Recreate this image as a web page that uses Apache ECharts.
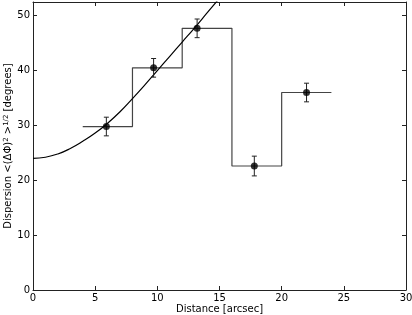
<!DOCTYPE html>
<html>
<head>
<meta charset="utf-8">
<script src="https://cdn.jsdelivr.net/npm/echarts@6/dist/echarts.min.js"></script>
<style>html,body{margin:0;padding:0;background:#fff}#c{width:412px;height:315px}</style>
</head>
<body>
<div id="c"></div>
<script>
// Bin edges of the step histogram and the dispersion per bin
const binEdges = [4, 8, 12, 16, 20, 24];
const binValues = [29.8, 40.5, 47.7, 22.6, 36.0];
// Data points with error bars
const pointX = [5.9, 9.7, 13.2, 17.8, 22.0];
const pointY = [29.8, 40.5, 47.7, 22.6, 36.0];
const pointErr = [1.7, 1.7, 1.7, 1.8, 1.7];
// Fitted curve
const curveX = [0, 1, 2, 3, 4, 5, 6, 7, 8, 9, 10, 11, 12, 13, 14, 15];
const curveY = [24.0, 24.2, 24.8, 25.8, 27.1, 28.6, 30.4, 32.5, 34.9, 37.4, 40.0, 42.6, 45.2, 47.8, 50.5, 53.2];
// Axis ticks
const xTicks = [0, 5, 10, 15, 20, 25, 30];
const yTicks = [0, 10, 20, 30, 40, 50];

const FONT = 'DejaVu Sans';
const stepData = binEdges.map((x, i) => [x, binValues[Math.min(i, binValues.length - 1)]]);
const pts = pointX.map((x, i) => [x, pointY[i]]);
const errData = pointX.map((x, i) => [x, pointY[i] - pointErr[i], pointY[i] + pointErr[i]]);
const curveData = curveX.map((x, i) => [x, curveY[i]]);

const chart = echarts.init(document.getElementById('c'), null, {renderer: 'canvas'});
const axisLine = {show: true, onZero: false, lineStyle: {color: '#222', width: 1}};
const tick = {show: true, inside: true, length: 4, lineStyle: {color: '#222', width: 1}};
chart.setOption({
  animation: false,
  backgroundColor: '#fff',
  grid: {left: 33, right: 6, top: 2, bottom: 25, containLabel: false, outerBoundsMode: 'none'},
  xAxis: [{
    type: 'value', min: xTicks[0], max: xTicks[xTicks.length - 1], interval: 5,
    position: 'bottom',
    axisLine: axisLine, axisTick: tick, splitLine: {show: false},
    axisLabel: {color: '#000', fontFamily: FONT, fontSize: 10, margin: 3},
    name: 'Distance [arcsec]', nameLocation: 'middle', nameGap: 14, nameMoveOverlap: false,
    nameTextStyle: {color: '#000', fontFamily: FONT, fontSize: 10}
  }, {
    type: 'value', min: xTicks[0], max: xTicks[xTicks.length - 1], interval: 5,
    position: 'top',
    axisLine: axisLine, axisTick: tick, splitLine: {show: false}, axisLabel: {show: false}
  }],
  yAxis: [{
    type: 'value', min: yTicks[0], max: 52.5, interval: 10,
    position: 'left',
    axisLine: axisLine, axisTick: tick, splitLine: {show: false},
    axisLabel: {color: '#000', fontFamily: FONT, fontSize: 10, margin: 3, showMaxLabel: false,
      formatter: v => (yTicks.indexOf(v) >= 0 ? String(v) : '')},
    name: 'Dispersion <(ΔΦ){sup|2} >{sup|1/2} [degrees]', nameLocation: 'middle', nameGap: 20, nameRotate: 90,
    nameMoveOverlap: false,
    nameTextStyle: {color: '#000', fontFamily: FONT, fontSize: 10,
      rich: {sup: {fontSize: 7, fontFamily: FONT, color: '#000', verticalAlign: 'top'}}}
  }, {
    type: 'value', min: yTicks[0], max: 52.5, interval: 10,
    position: 'right',
    axisLine: axisLine, axisTick: tick, splitLine: {show: false}, axisLabel: {show: false}
  }],
  series: [
    {
      type: 'line', data: stepData, step: 'end', symbol: 'none',
      lineStyle: {color: '#444', width: 1.2}, z: 2
    },
    {
      type: 'line', data: curveData, smooth: true, symbol: 'none',
      lineStyle: {color: '#000', width: 1.2}, clip: true, z: 3
    },
    {
      type: 'custom', z: 4,
      data: errData,
      renderItem: function (params, api) {
        const x = api.value(0);
        const lo = api.coord([x, api.value(1)]);
        const hi = api.coord([x, api.value(2)]);
        const cap = 2.5;
        const st = {stroke: '#222', lineWidth: 1};
        return {type: 'group', children: [
          {type: 'line', shape: {x1: lo[0], y1: lo[1], x2: hi[0], y2: hi[1]}, style: st},
          {type: 'line', shape: {x1: lo[0] - cap, y1: lo[1], x2: lo[0] + cap, y2: lo[1]}, style: st},
          {type: 'line', shape: {x1: hi[0] - cap, y1: hi[1], x2: hi[0] + cap, y2: hi[1]}, style: st}
        ]};
      }
    },
    {
      type: 'scatter', data: pts, symbol: 'circle', symbolSize: 7,
      itemStyle: {color: '#000'}, z: 5
    }
  ]
});
</script>
</body>
</html>
